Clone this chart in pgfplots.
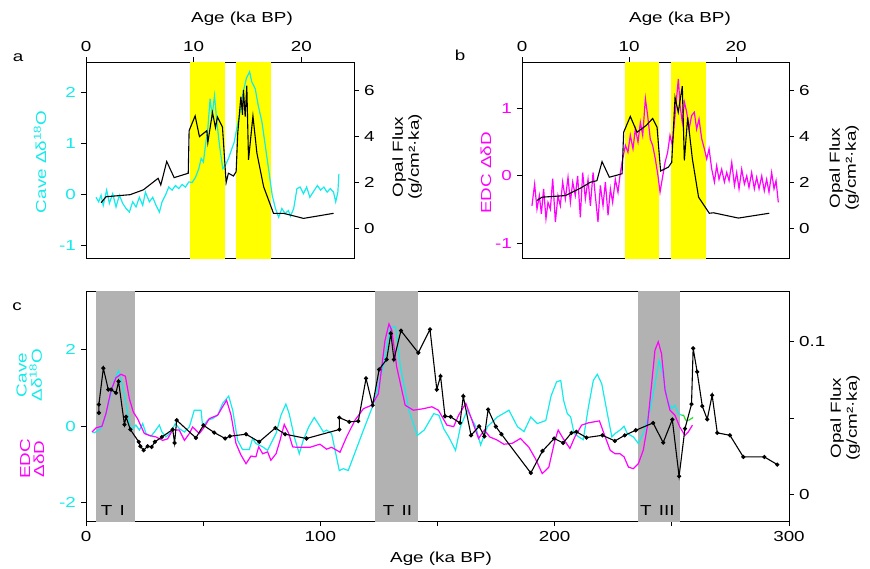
\documentclass[border=0pt]{standalone}
\usepackage{pgfplots}
\pgfplotsset{compat=1.18}
\usepackage{fontspec}
\setmainfont{Liberation Sans}[FakeStretch=1.3]
\definecolor{cy}{RGB}{20,235,235}
\definecolor{mg}{RGB}{255,0,255}
\definecolor{yl}{RGB}{255,255,0}
\definecolor{gb}{RGB}{178,178,178}
\definecolor{gn}{RGB}{40,220,40}
\pgfplotsset{
  every axis/.append style={scale only axis, tick align=outside, major tick length=5pt,
    axis line style={line width=0.9pt}, every tick/.style={black, line width=0.9pt},
    anchor=south west},
}
\begin{document}
\fontsize{14.5}{16}\selectfont
\begin{tikzpicture}
\useasboundingbox (0,0) rectangle (870pt,-568pt);
% ---------------- panel a ----------------
\begin{axis}[at={(86pt,-258pt)}, width=268pt, height=196pt,
  xmin=0, xmax=24.9, ymin=-1.24, ymax=2.6,
  xtick={0,10,20}, xticklabels={0,10,20}, xtick pos=right, xticklabel pos=right,
  ytick={-1,0,1,2}, yticklabels={-1,0,1,2}, ytick pos=left,
  yticklabel style={text=cy}]
\addplot[fill=yl, draw=none] coordinates {(9.67,-2) (12.87,-2) (12.87,3) (9.67,3)} --cycle;
\addplot[fill=yl, draw=none] coordinates {(13.89,-2) (17.17,-2) (17.17,3) (13.89,3)} --cycle;
\addplot[cy, line width=1.2pt] table {
0.93 -0.05
1.18 -0.14
1.4 -0.01
1.6 -0.21
1.92 0.09
2.17 -0.17
2.48 0.02
2.79 -0.24
3.1 -0.01
3.41 -0.17
3.72 -0.27
4.03 -0.34
4.34 -0.14
4.65 -0.24
4.96 -0.05
5.27 -0.21
5.52 0.05
5.89 -0.14
6.2 -0.05
6.51 -0.21
6.82 -0.34
7.07 -0.14
7.38 -0.01
7.69 0.15
8.0 0.09
8.31 0.18
8.62 0.12
8.93 0.2
9.24 0.15
9.55 0.25
9.86 0.24
10.17 0.34
10.48 0.51
10.7 0.71
10.91 0.64
11.1 0.97
11.32 1.3
11.53 1.88
11.72 1.55
11.94 1.94
12.16 1.42
12.4 0.97
12.71 0.51
12.93 0.57
13.24 0.71
13.55 0.9
13.77 1.03
14.0 1.29
14.32 1.62
14.6 2.01
14.9 2.28
15.2 2.41
15.4 2.21
15.72 2.08
16.0 1.75
16.35 1.42
16.65 0.97
16.96 0.51
17.3 -0.01
17.6 -0.27
17.9 -0.44
18.2 -0.27
18.5 -0.37
18.8 -0.31
19.0 -0.42
19.3 -0.27
19.6 0.12
19.9 0.15
20.2 0.02
20.5 0.15
20.8 -0.05
21.1 0.05
21.5 0.18
21.8 0.09
22.1 0.15
22.4 0.05
22.7 0.12
23.0 0.05
23.2 -0.14
23.4 0.05
23.5 0.41
};
\end{axis}
\begin{axis}[at={(86pt,-258pt)}, width=268pt, height=196pt,
  xmin=0, xmax=24.9, ymin=-1.29, ymax=7.22,
  axis x line=none, axis y line*=right,
  ytick={0,2,4,6}, yticklabels={0,2,4,6}]
\addplot[black, line width=1.1pt] table {
1.4 1.11
1.86 1.37
4.1 1.46
5.33 1.67
6.7 2.17
6.95 1.88
7.5 2.9
8.19 2.2
9.5 2.39
9.58 4.24
10.14 4.88
10.54 3.98
11.23 4.24
11.32 3.72
11.75 5.03
12.03 4.37
12.21 4.83
12.68 4.39
13.02 1.98
13.23 2.39
13.7 2.27
13.95 2.46
14.1 4.13
14.39 5.72
14.54 4.93
14.63 6.01
14.79 4.85
14.94 6.19
15.1 2.97
15.51 4.88
15.88 3.26
16.5 1.81
17.42 0.65
18.35 0.65
20.21 0.43
23.0 0.65
};
\end{axis}
\node at (18pt,-58pt) {a};
\node at (242pt,-19pt) {Age (ka BP)};
\node[rotate=90, text=cy] at (40pt,-162pt) {Cave Δδ\textsuperscript{18}O};
\node[rotate=90, align=center] at (407pt,-157pt) {Opal Flux\\(g/cm²·ka)};
% ---------------- panel b ----------------
\begin{axis}[at={(522pt,-258pt)}, width=267pt, height=196pt,
  xmin=0, xmax=24.95, ymin=-1.21, ymax=1.68,
  xtick={0,10,20}, xticklabels={0,10,20}, xtick pos=right, xticklabel pos=right,
  ytick={-1,0,1}, yticklabels={-1,0,1}, ytick pos=left,
  yticklabel style={text=mg}]
\addplot[fill=yl, draw=none] coordinates {(9.63,-2) (12.8,-2) (12.8,3) (9.63,3)} --cycle;
\addplot[fill=yl, draw=none] coordinates {(13.9,-2) (17.2,-2) (17.2,3) (13.9,3)} --cycle;
\addplot[mg, line width=1.2pt] table {
0.93 -0.44
1.18 -0.12
1.4 -0.49
1.62 -0.29
1.81 -0.56
2.02 -0.19
2.24 -0.63
2.43 -0.39
2.65 -0.49
2.87 -0.04
3.12 -0.68
3.36 -0.29
3.58 -0.44
3.8 -0.09
4.05 -0.34
4.3 -0.02
4.52 -0.39
4.74 -0.09
4.98 -0.29
5.2 0.0
5.45 -0.61
5.67 0.05
5.92 -0.34
6.17 -0.05
6.39 -0.44
6.64 0.05
6.85 -0.29
7.1 -0.68
7.32 -0.14
7.57 -0.44
7.79 -0.09
8.04 -0.58
8.26 -0.19
8.47 -0.39
8.72 -0.05
8.97 -0.24
9.19 0.05
9.41 0.25
9.66 0.45
9.9 0.35
10.12 0.6
10.37 0.4
10.59 0.69
10.84 0.5
11.06 0.79
11.28 0.6
11.53 1.14
11.74 0.89
11.99 0.54
12.21 0.45
12.46 0.25
12.71 0.0
12.9 -0.24
13.1 -0.05
13.37 0.2
13.61 0.35
13.83 0.6
14.05 0.45
14.24 0.79
14.45 1.16
14.61 1.43
14.77 1.04
14.98 0.79
15.17 1.09
15.39 0.94
15.61 0.69
15.85 0.89
16.1 0.94
16.32 0.69
16.54 0.84
16.79 0.55
17.04 0.4
17.26 0.25
17.48 0.4
17.73 0.1
17.98 -0.09
18.19 0.15
18.41 -0.05
18.66 0.1
18.91 -0.09
19.13 0.05
19.35 -0.07
19.6 0.2
19.85 -0.14
20.06 0.05
20.28 -0.19
20.53 0.1
20.78 -0.12
21.0 0.0
21.21 -0.17
21.46 0.05
21.71 -0.19
21.93 -0.02
22.15 -0.19
22.4 0.0
22.64 -0.22
22.86 -0.05
23.08 -0.24
23.33 0.05
23.55 -0.19
23.74 -0.07
23.95 -0.39
};
\end{axis}
\begin{axis}[at={(522pt,-258pt)}, width=267pt, height=196pt,
  xmin=0, xmax=24.95, ymin=-1.29, ymax=7.25,
  axis x line=none, axis y line*=right,
  ytick={0,2,4,6}, yticklabels={0,2,4,6}]
\addplot[black, line width=1.1pt] table {
1.4 1.22
1.87 1.36
4.05 1.43
5.45 1.75
6.39 2.01
7.0 2.08
7.48 2.91
8.16 2.23
9.35 2.38
9.5 4.19
10.12 4.88
10.75 4.19
11.59 4.48
12.21 4.79
12.62 4.41
12.95 2.5
13.68 2.67
13.99 2.88
14.3 5.71
14.6 5.06
14.98 6.2
15.17 2.96
15.48 4.84
15.92 3.03
16.5 1.36
17.5 0.66
17.9 0.68
20.22 0.45
23.1 0.66
};
\end{axis}
\node at (460pt,-55pt) {b};
\node at (680pt,-19pt) {Age (ka BP)};
\node[rotate=90, text=mg] at (486pt,-173pt) {EDC ΔδD};
\node[rotate=90, align=center] at (844pt,-168pt) {Opal Flux\\(g/cm²·ka)};
% ---------------- panel c ----------------
\begin{axis}[at={(86pt,-521pt)}, width=703pt, height=230pt,
  xmin=0, xmax=300, ymin=-2.48, ymax=3.54,
  xtick={0,50,100,150,200,250,300}, xticklabels={0,,100,,200,,300},
  xtick pos=left, xticklabel pos=left,
  ytick={-2,0,2}, yticklabels={-2,0,2}, ytick pos=left,
  yticklabel style={text=cy}]
\addplot[fill=gb, draw=none] coordinates {(4.1,-3) (20.8,-3) (20.8,4) (4.1,4)} --cycle;
\addplot[fill=gb, draw=none] coordinates {(123.3,-3) (141.5,-3) (141.5,4) (123.3,4)} --cycle;
\addplot[fill=gb, draw=none] coordinates {(235.5,-3) (253.3,-3) (253.3,4) (235.5,4)} --cycle;
\addplot[cy, line width=1.2pt] table {
2.8 -0.15
3.6 -0.17
6.4 -0.06
7.8 0.16
10.0 0.68
12.1 1.2
13.9 1.45
15.4 1.11
16.8 0.68
17.8 0.33
19.2 -0.1
21.3 0.03
22.8 -0.1
24.2 0.07
25.6 -0.19
27.7 -0.26
29.2 -0.15
31.3 0.03
32.4 -0.15
34.1 -0.28
36.3 -0.15
38.1 0.07
39.8 -0.06
42.0 -0.15
44.1 -0.02
46.2 0.42
49.1 0.42
49.8 -0.02
51.9 0.16
54.0 0.2
56.2 0.29
58.3 0.6
60.9 0.79
62.6 0.42
64.7 -0.37
66.8 -0.61
69.7 -0.61
71.1 -0.32
72.5 -0.45
75.4 -0.54
77.5 -0.63
79.6 -0.37
81.1 -0.19
83.2 0.29
85.3 0.58
86.7 0.33
88.9 -0.28
91.0 -0.72
92.7 -0.37
95.0 -0.02
97.4 0.23
99.5 0.03
101.3 -0.15
102.7 -0.1
104.8 -0.19
108.1 -1.16
109.8 -1.11
111.9 -1.16
114.1 -0.8
118.4 -0.1
122.8 0.6
127.1 1.64
129.9 2.6
132.1 2.6
134.2 1.55
137.8 0.42
141.4 -0.24
144.3 -0.1
148.4 0.33
150.6 0.29
152.7 -0.07
154.8 -0.28
157.7 -0.63
159.8 -0.01
162.7 0.42
166.3 -0.01
168.4 -0.49
171.3 -0.01
175.5 0.24
180.5 0.42
184.1 -0.01
186.9 -0.14
189.8 0.24
192.6 0.07
196.2 0.15
198.5 0.8
200.8 1.16
202.6 1.2
203.8 0.68
205.4 0.33
206.8 0.25
208.3 -0.19
210.8 -0.3
212.2 -0.35
214.4 0.5
216.5 1.2
218.2 1.36
220.1 1.11
222.2 0.42
224.4 -0.28
225.8 -0.19
227.9 -0.1
229.6 0.0
231.0 -0.19
233.6 -0.28
235.7 -0.45
237.8 -0.19
240.7 0.42
242.8 1.11
244.6 1.72
246.4 1.29
248.1 0.68
249.9 0.46
251.3 0.55
252.8 0.33
254.2 0.29
};
\addplot[gn, line width=1.2pt] table {
254.2 0.29
255.0 0.29
255.9 0.16
257.3 0.16
259.1 0.23
};
\addplot[mg, line width=1.2pt] table {
2.6 -0.15
4.3 -0.04
6.8 0.0
8.5 0.33
10.7 0.94
12.8 1.27
14.9 1.36
16.8 1.31
18.5 0.72
20.2 0.37
22.0 0.2
24.9 -0.19
27.0 -0.24
29.9 -0.28
32.7 -0.37
34.8 -0.33
37.0 -0.1
39.8 -0.1
42.0 -0.37
44.1 -0.19
45.5 -0.02
48.4 -0.19
50.5 -0.02
52.6 0.2
56.2 0.29
58.3 0.51
60.0 0.68
61.9 0.29
64.0 -0.45
66.1 -0.75
68.3 -0.98
70.4 -0.78
72.5 -0.8
73.7 -0.54
75.4 -0.72
77.5 -0.67
78.9 -0.89
81.1 -0.72
82.8 -0.37
84.6 0.05
86.5 -0.19
88.2 -0.54
89.9 -0.55
92.7 -0.55
95.6 -0.55
97.7 -0.51
99.8 -0.47
102.7 -0.6
104.8 -0.55
108.4 -0.68
111.2 -0.28
114.8 0.16
118.4 0.46
121.9 0.55
124.8 0.85
127.6 2.25
129.3 2.68
130.5 2.51
132.6 1.55
136.2 0.55
139.7 0.42
144.0 0.46
147.6 0.51
150.4 0.42
154.0 0.03
156.9 -0.01
159.0 0.29
162.1 0.6
164.7 0.16
167.5 -0.32
170.0 -0.1
172.3 -0.28
175.4 -0.36
178.3 -0.47
181.8 -0.45
185.4 -0.32
189.0 -0.55
191.8 -0.85
194.7 -1.24
197.5 -1.07
200.1 -0.37
201.5 -0.1
203.6 -0.32
206.5 -0.58
208.6 -0.28
211.5 0.03
214.4 0.09
219.1 0.14
220.8 -0.15
223.7 -0.63
225.8 -0.72
227.9 -0.72
229.6 -0.8
231.5 -1.07
233.6 -1.11
235.7 -0.98
237.8 -0.63
239.5 -0.02
241.4 1.12
242.8 1.99
244.2 2.21
245.6 1.9
247.1 0.94
249.2 0.42
251.3 0.29
253.4 -0.02
255.6 -0.24
257.0 -0.15
258.8 0.03
};
\node at (axis cs:11.5,-2.2) {T\hspace{0.5em}I};
\node at (axis cs:132.9,-2.2) {T\hspace{0.5em}II};
\node at (axis cs:243.8,-2.2) {T\hspace{0.5em}III};
\end{axis}
\begin{axis}[at={(86pt,-521pt)}, width=703pt, height=230pt,
  xmin=0, xmax=300, ymin=-0.0175, ymax=0.1333,
  axis x line=none, axis y line*=right,
  ytick={0,0.05,0.1}, yticklabels={0,,0.1}]
\addplot[black, line width=1.1pt, mark=*, mark size=1.5pt] table {
5.5 0.0534
5.5 0.0589
7.4 0.0827
9.5 0.0687
10.7 0.0687
12.8 0.0665
13.9 0.0740
16.4 0.0457
17.1 0.0508
18.9 0.0425
22.5 0.0344
23.2 0.0315
24.6 0.0289
26.3 0.0315
28.0 0.031
29.4 0.0344
32.4 0.0376
37.0 0.0425
37.8 0.0337
38.7 0.0486
46.9 0.037
50.1 0.0453
54.7 0.0405
59.4 0.0366
61.4 0.0381
68.3 0.0394
73.9 0.0344
80.8 0.0435
85.0 0.0394
94.1 0.0366
108.1 0.0425
108.1 0.0503
112.3 0.0475
116.2 0.048
119.5 0.076
122.3 0.0584
125.1 0.0819
128.3 0.0884
130.1 0.1055
131.4 0.0884
134.4 0.1073
141.8 0.0928
146.8 0.1081
149.7 0.0687
151.3 0.0775
153.2 0.0512
155.6 0.0508
159.6 0.0468
161.0 0.0643
164.3 0.0387
167.8 0.0446
170.0 0.038
171.6 0.0556
174.9 0.0444
177.3 0.0394
189.8 0.014
194.8 0.0284
199.8 0.0366
203.6 0.0337
207.2 0.0403
209.3 0.041
213.6 0.0372
220.4 0.0387
225.7 0.035
229.9 0.0387
234.6 0.042
242.0 0.0468
246.3 0.0339
250.2 0.049
253.1 0.0118
255.6 0.0431
258.4 0.0591
259.1 0.0957
260.8 0.0803
263.0 0.0578
265.1 0.0492
267.2 0.065
269.4 0.0403
274.8 0.0387
280.5 0.0245
289.5 0.0245
295.0 0.0195
};
\end{axis}
\node at (17pt,-307pt) {c};
\node at (441pt,-559pt) {Age (ka BP)};
\node[align=center, text=cy] at (31pt,-375pt) {\rotatebox{90}{\begin{tabular}{@{}c@{}}Cave\\[-2pt]Δδ\textsuperscript{18}O\end{tabular}}};
\node[align=center, text=mg] at (34pt,-459pt) {\rotatebox{90}{\begin{tabular}{@{}c@{}}EDC\\[-2pt]ΔδD\end{tabular}}};
\node[rotate=90, align=center] at (845pt,-418pt) {Opal Flux\\(g/cm²·ka)};
\end{tikzpicture}
\end{document}
